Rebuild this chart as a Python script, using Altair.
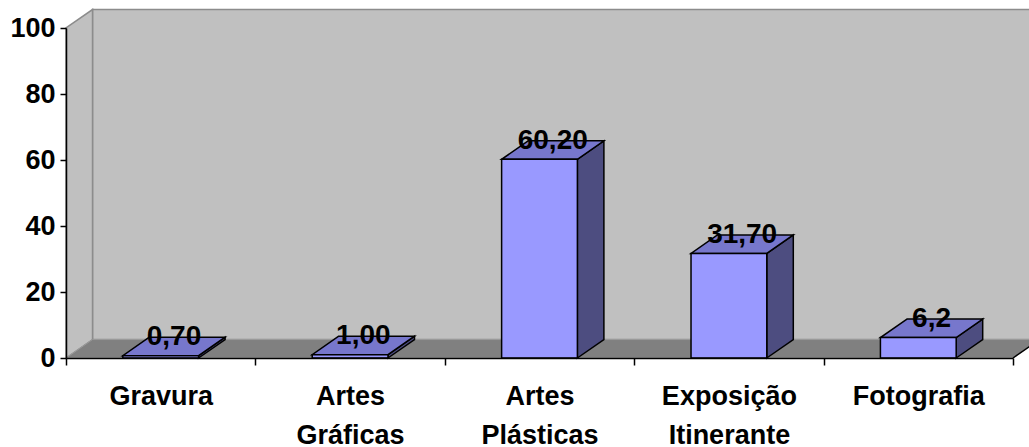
import json
import altair as alt
import pandas as pd

# ---- data ----
categories = ["Gravura", "Artes Gráficas", "Artes Plásticas", "Exposição Itinerante", "Fotografia"]
category_lines = [["Gravura"], ["Artes", "Gráficas"], ["Artes", "Plásticas"], ["Exposição", "Itinerante"], ["Fotografia"]]
values = [0.70, 1.00, 60.20, 31.70, 6.2]
value_labels = ["0,70", "1,00", "60,20", "31,70", "6,2"]
y_ticks = [0, 20, 40, 60, 80, 100]

# ---- 3D geometry (in data units) ----
N = len(categories)
BAR_W = 0.40          # fraction of band
DX = 0.14             # depth offset along x (bands)
DY = 5.6              # depth offset along y (value units)
YMAX = 100

FONT = "Liberation Sans"
FRONT, TOP, SIDE = "#9999FF", "#7777CC", "#4D4D80"
WALL, WALL_EDGE, FLOOR = "#C0C0C0", "#8C8C8C", "#808080"

xs = alt.Scale(domain=[0, N], nice=False, zero=False)
ys = alt.Scale(domain=[0, YMAX], nice=False, zero=False)

label_expr = "datum.value < %d ? %s[datum.value] : ''" % (N, json.dumps(category_lines, ensure_ascii=False))
x_axis = alt.Axis(values=list(range(N + 1)), labelExpr=label_expr, title=None, grid=False,
                  domainColor="black", domainWidth=1.5, tickColor="black", tickSize=7, tickWidth=1.5,
                  labelFont=FONT, labelFontSize=27, labelFontWeight="bold", labelColor="black",
                  labelAlign="center", labelBaseline="top", labelOffset=947 / N / 2, labelPadding=18,
                  labelLineHeight=39, labelFlush=False, labelOverlap=False, labelLimit=300, zindex=1)
y_axis = alt.Axis(values=y_ticks, title=None, grid=False,
                  domainColor="black", domainWidth=1.5, tickColor="black", tickSize=6, tickWidth=1.5,
                  labelFont=FONT, labelFontSize=27, labelFontWeight="bold", labelColor="black",
                  labelPadding=5, labelFlush=False, zindex=1)


def X(f):
    return alt.X(f, scale=xs, axis=x_axis, title=None)


def Y(f):
    return alt.Y(f, scale=ys, axis=y_axis, title=None, stack=None)


# ---- tables ----
bars = pd.DataFrame({"i": range(N), "v": values, "lab": value_labels})
bars["x0"] = bars["i"] + (1 - BAR_W) / 2
bars["x1"] = bars["x0"] + BAR_W
bars["base"] = 0.0
bars["lx"] = bars["i"] + 0.5 + DX / 2
bars["ly"] = bars["v"] + DY

top_rows, side_rows = [], []
for _, r in bars.iterrows():
    top_rows.append({"i": r.i, "yy": r.v, "xa": r.x0, "xb": r.x1})
    top_rows.append({"i": r.i, "yy": r.v + DY, "xa": r.x0 + DX, "xb": r.x1 + DX})
    side_rows.append({"i": r.i, "xx": r.x1, "ya": 0.0, "yb": r.v})
    side_rows.append({"i": r.i, "xx": r.x1 + DX, "ya": DY, "yb": r.v + DY})
top_df = pd.DataFrame(top_rows)
side_df = pd.DataFrame(side_rows)

back_wall = pd.DataFrame({"x0": [DX], "x1": [N + DX], "y0": [DY], "y1": [YMAX + DY]})
left_wall = pd.DataFrame({"xx": [0.0, DX], "ya": [0.0, DY], "yb": [float(YMAX), YMAX + DY]})
floor = pd.DataFrame({"yy": [0.0, DY], "xa": [0.0, DX], "xb": [float(N), N + DX]})
floor_edge = pd.DataFrame({"x0": [float(N)], "x1": [N + DX], "y0": [0.0], "y1": [DY]})

# ---- layers ----
l_back = alt.Chart(back_wall).mark_rect(fill=WALL, stroke=WALL_EDGE, strokeWidth=1.5).encode(
    x=X("x0:Q"), x2="x1:Q", y=Y("y0:Q"), y2="y1:Q")
l_left = alt.Chart(left_wall).mark_area(orient="vertical", fill=WALL, stroke=WALL_EDGE, strokeWidth=1.5).encode(
    x=X("xx:Q"), y=Y("ya:Q"), y2="yb:Q")
l_floor = alt.Chart(floor).mark_area(orient="horizontal", fill=FLOOR, stroke="#9A9A9A", strokeWidth=1).encode(
    y=Y("yy:Q"), x=X("xa:Q"), x2="xb:Q")
l_fedge = alt.Chart(floor_edge).mark_rule(color="black", strokeWidth=1.5).encode(
    x=X("x0:Q"), x2="x1:Q", y=Y("y0:Q"), y2="y1:Q")

l_side = alt.Chart(side_df).mark_area(orient="vertical", fill=SIDE, stroke="black", strokeWidth=1.5).encode(
    x=X("xx:Q"), y=Y("ya:Q"), y2="yb:Q", detail="i:N")
l_top = alt.Chart(top_df).mark_area(orient="horizontal", fill=TOP, stroke="black", strokeWidth=1.5).encode(
    y=Y("yy:Q"), x=X("xa:Q"), x2="xb:Q", detail="i:N")
l_front = alt.Chart(bars).mark_rect(fill=FRONT, stroke="black", strokeWidth=1.5).encode(
    x=X("x0:Q"), x2="x1:Q", y=Y("base:Q"), y2="v:Q")
l_text = alt.Chart(bars).mark_text(font=FONT, fontSize=28, fontWeight="bold", color="black",
                                   align="center", baseline="middle").encode(
    x=X("lx:Q"), y=Y("ly:Q"), text="lab:N")

chart = alt.layer(l_back, l_left, l_floor, l_fedge, l_side, l_top, l_front, l_text).properties(
    width=947, height=330,
    autosize=alt.AutoSizeParams(type="none"),
    padding={"left": 66, "top": 28, "right": 16, "bottom": 89},
    background="white",
).configure_view(stroke=None)

chart.save("out.html", embed_options={"renderer": "svg", "actions": False})
